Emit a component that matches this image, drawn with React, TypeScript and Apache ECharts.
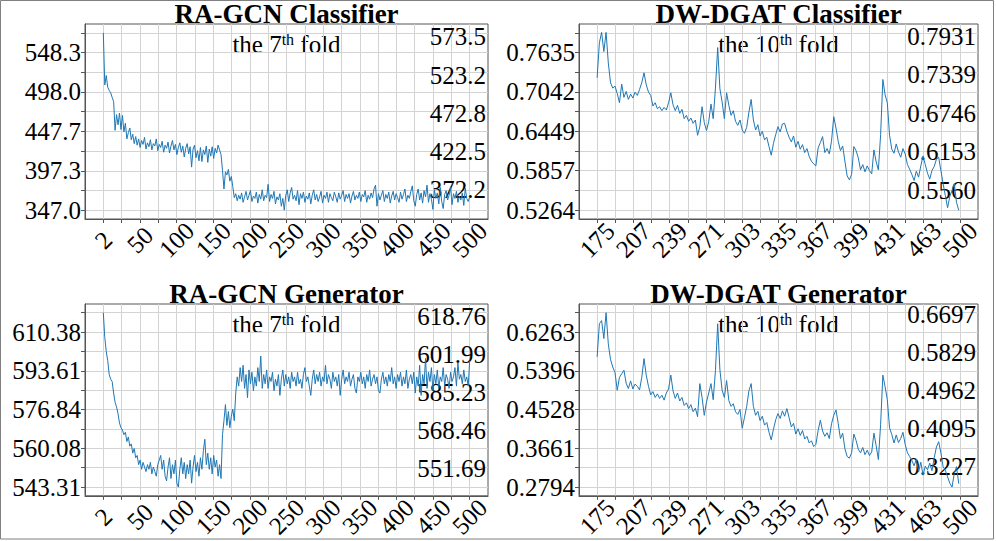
import React, { useEffect, useRef } from 'react';
import * as echarts from 'echarts';

// ---------------- data ----------------
// RA-GCN, epochs 2,4,...,500 (7th fold)
const raEpochStart = 2;
const raEpochStep = 2;
const raClsLoss = [
  573.5, 507, 519, 504, 500, 497, 491, 486, 449, 469,
  456, 471, 450, 468, 447, 458, 438, 446, 452, 437,
  444, 432, 441, 430, 438, 427, 436, 431, 440, 425,
  433, 428, 437, 424, 432, 429, 438, 423, 431, 427,
  435, 421, 430, 426, 434, 420, 429, 436, 424, 431,
  418, 427, 433, 421, 429, 415, 426, 432, 419, 428,
  402, 425, 430, 414, 423, 410, 427, 409, 424, 418,
  429, 408, 425, 416, 428, 413, 426, 420, 430, 424,
  418, 398, 374, 396, 392, 399, 384, 390, 377, 363,
  368, 359, 366, 361, 369, 357, 364, 371, 360, 366,
  372, 358, 365, 362, 370, 356, 367, 361, 373, 359,
  366, 363, 380, 358, 367, 362, 371, 355, 364, 360,
  368, 352, 362, 347, 366, 373, 358, 369, 376, 361,
  366, 359, 372, 354, 368, 362, 370, 357, 365, 361,
  369, 355, 366, 373, 360, 367, 358, 364, 371, 356,
  366, 362, 370, 357, 368, 363, 359, 370, 364, 357,
  369, 361, 366, 372, 358, 367, 362, 368, 356, 365,
  371, 360, 366, 362, 370, 358, 367, 364, 372, 357,
  366, 361, 369, 363, 374, 379, 352, 368, 360, 366,
  372, 358, 367, 362, 370, 356, 365, 371, 360, 368,
  363, 357, 370, 361, 367, 374, 358, 366, 362, 371,
  378, 359, 352, 367, 374, 360, 369, 356, 372, 364,
  379, 357, 368, 361, 348, 373, 362, 369, 355, 376,
  358, 349, 367, 372, 360, 366, 377, 354, 368, 362,
  371, 357, 365, 360, 369, 353, 375, 362, 358, 364,
];
const raGenLoss = [
  618.76, 608, 602, 598, 592, 590, 589, 584, 580, 578,
  575, 571, 569, 568, 566, 567, 563, 565, 561, 562,
  558, 560, 556, 557, 553, 555, 551, 554, 552, 550,
  553, 551, 554, 549, 552, 550, 548, 553, 555, 557,
  551, 555, 548, 546, 552, 556, 547, 553, 549, 555,
  545, 543.31, 551, 556, 549, 554, 547, 553, 549, 555,
  545, 552, 557, 550, 554, 548, 556, 551, 559, 564,
  553, 558, 551, 556, 549, 557, 552, 555, 548, 553,
  547, 566, 572, 579, 570, 576, 569, 574, 577, 572,
  584, 591, 587, 595, 589, 596, 586, 592, 582, 594,
  588, 593, 585, 591, 587, 595, 589, 600, 586, 592,
  588, 594, 586, 591, 589, 593, 585, 590, 587, 592,
  583, 590, 594, 587, 592, 588, 591, 586, 593, 589,
  591, 587, 593, 588, 590, 586, 592, 595, 589, 591,
  587, 583, 590, 594, 588, 592, 589, 593, 587, 591,
  589, 596, 588, 592, 590, 586, 593, 589, 591, 587,
  592, 583, 590, 594, 588, 591, 589, 593, 587, 590,
  592, 586, 584, 591, 589, 593, 588, 591, 586, 592,
  589, 594, 587, 590, 592, 588, 591, 585, 584, 590,
  593, 588, 591, 587, 592, 589, 595, 588, 591, 586,
  592, 589, 593, 587, 591, 588, 594, 586, 590, 592,
  588, 593, 584, 591, 587, 596, 583, 592, 588, 599,
  586, 593, 589, 595, 585, 592, 588, 594, 586, 591,
  589, 595, 587, 592, 590, 586, 593, 589, 591, 595,
  587, 597, 590, 592, 588, 594, 589, 591, 587, 598,
];

// DW-DGAT, epochs 175,177,...,499 (10th fold)
const dwEpochStart = 175;
const dwEpochStep = 2;
const dwClsLoss = [
  0.7255, 0.778, 0.7939, 0.765, 0.7939, 0.748, 0.718, 0.71, 0.713, 0.702,
  0.688, 0.716, 0.696, 0.705, 0.693, 0.701, 0.695, 0.704, 0.699, 0.708,
  0.718, 0.733, 0.715, 0.704, 0.699, 0.683, 0.688, 0.679, 0.682, 0.676,
  0.681, 0.677, 0.688, 0.703, 0.685, 0.676, 0.684, 0.672, 0.678, 0.664,
  0.669, 0.66, 0.665, 0.657, 0.662, 0.639, 0.652, 0.682, 0.658, 0.646,
  0.66, 0.686, 0.664, 0.71, 0.771, 0.709, 0.689, 0.664, 0.703, 0.684,
  0.669, 0.676, 0.66, 0.654, 0.662, 0.647, 0.642, 0.651, 0.674, 0.693,
  0.662, 0.647, 0.655, 0.638, 0.645, 0.632, 0.636, 0.622, 0.609, 0.627,
  0.64, 0.652, 0.644, 0.656, 0.657, 0.645, 0.636, 0.629, 0.638, 0.621,
  0.63, 0.618, 0.625, 0.613, 0.619, 0.607, 0.6, 0.596, 0.593, 0.62,
  0.628, 0.637, 0.613, 0.619, 0.611, 0.63, 0.667, 0.65, 0.63, 0.616,
  0.623, 0.6, 0.578, 0.572, 0.58, 0.622, 0.616, 0.605, 0.587, 0.595,
  0.584, 0.593, 0.586, 0.581, 0.617, 0.599, 0.587, 0.64, 0.723, 0.7,
  0.688, 0.639, 0.618, 0.612, 0.626, 0.614, 0.606, 0.619, 0.611, 0.595,
  0.588, 0.58, 0.571, 0.585, 0.576, 0.593, 0.608, 0.595, 0.582, 0.573,
  0.586, 0.592, 0.603, 0.606, 0.586, 0.566, 0.548, 0.53, 0.547, 0.556,
  0.566, 0.538, 0.5264,
];
const dwGenLoss = [
  0.571, 0.645, 0.652, 0.612, 0.6697, 0.6, 0.565, 0.548, 0.536, 0.496,
  0.525, 0.533, 0.541, 0.512, 0.5, 0.517, 0.499, 0.51, 0.505, 0.497,
  0.525, 0.567, 0.53, 0.505, 0.486, 0.493, 0.48, 0.488, 0.478, 0.485,
  0.474, 0.49, 0.499, 0.53, 0.495, 0.478, 0.49, 0.472, 0.48, 0.462,
  0.468, 0.455, 0.464, 0.448, 0.456, 0.437, 0.511, 0.48, 0.44, 0.47,
  0.49, 0.511, 0.475, 0.54, 0.645, 0.542, 0.496, 0.48, 0.518, 0.473,
  0.46, 0.466, 0.448, 0.442, 0.453, 0.411, 0.435, 0.46, 0.495, 0.511,
  0.46, 0.44, 0.449, 0.428, 0.438, 0.418, 0.424, 0.402, 0.385, 0.409,
  0.43, 0.444, 0.433, 0.45, 0.438, 0.455, 0.435, 0.414, 0.422, 0.398,
  0.41, 0.395, 0.406, 0.387, 0.393, 0.378, 0.383, 0.37, 0.375, 0.406,
  0.429, 0.405, 0.393, 0.401, 0.388, 0.421, 0.44, 0.452, 0.422, 0.388,
  0.4, 0.365, 0.348, 0.344, 0.356, 0.398, 0.384, 0.364, 0.356, 0.368,
  0.352, 0.362, 0.35, 0.358, 0.4, 0.372, 0.341, 0.42, 0.53, 0.504,
  0.475, 0.412, 0.397, 0.378, 0.396, 0.379, 0.388, 0.402, 0.375, 0.356,
  0.348, 0.339, 0.327, 0.342, 0.313, 0.335, 0.306, 0.326, 0.318, 0.333,
  0.316, 0.345, 0.369, 0.381, 0.356, 0.325, 0.317, 0.302, 0.288, 0.2794,
  0.31, 0.325, 0.287,
];

// tick labels
const raXLabels = ['2', '50', '100', '150', '200', '250', '300', '350', '400', '450', '500'];
const dwXLabels = ['175', '207', '239', '271', '303', '335', '367', '399', '431', '463', '500'];
const raClsYTicks = ['347.0', '372.2', '397.3', '422.5', '447.7', '472.8', '498.0', '523.2', '548.3', '573.5'];
const raGenYTicks = ['543.31', '551.69', '560.08', '568.46', '576.84', '585.23', '593.61', '601.99', '610.38', '618.76'];
const dwClsYTicks = ['0.5264', '0.5560', '0.5857', '0.6153', '0.6449', '0.6746', '0.7042', '0.7339', '0.7635', '0.7931'];
const dwGenYTicks = ['0.2794', '0.3227', '0.3661', '0.4095', '0.4528', '0.4962', '0.5396', '0.5829', '0.6263', '0.6697'];

const titles = ['RA-GCN Classifier', 'DW-DGAT Classifier', 'RA-GCN Generator', 'DW-DGAT Generator'];
const foldNumbers = ['7', '10', '7', '10'];

// ---------------- helpers ----------------
const FONT = 'Liberation Serif';
const FRAME = '#555555';
const GRIDC = '#d3d3d3';
const LINE = '#1f77b4';

function linspace(a: number, b: number, n: number) {
  const out: number[] = [];
  for (let i = 0; i < n; i++) out.push(a + ((b - a) * i) / (n - 1));
  return out;
}

function toPairs(values: number[], start: number, step: number) {
  return values.map((v, i) => [start + i * step, v]);
}

function nearestLabel(v: number, vals: number[], labels: string[]) {
  let best = 0;
  for (let i = 1; i < vals.length; i++) {
    if (Math.abs(vals[i] - v) < Math.abs(vals[best] - v)) best = i;
  }
  return labels[best];
}

type Panel = {
  grid: { left: number; top: number; width: number; height: number };
  xFirst: number;
  xLast: number;
  xLabels: string[];
  yTicks: string[];
  rightRange: [number, number];
  data: number[][];
};

const panels: Panel[] = [
  {
    grid: { left: 85, top: 24, width: 403, height: 195 },
    xFirst: 2, xLast: 500, xLabels: raXLabels, yTicks: raClsYTicks,
    rightRange: [334.1, 590.2],
    data: toPairs(raClsLoss, raEpochStart, raEpochStep),
  },
  {
    grid: { left: 579, top: 24, width: 399, height: 195 },
    xFirst: 175, xLast: 500, xLabels: dwXLabels, yTicks: dwClsYTicks,
    rightRange: [0.5112, 0.8127],
    data: toPairs(dwClsLoss, dwEpochStart, dwEpochStep),
  },
  {
    grid: { left: 85, top: 304, width: 403, height: 195 },
    xFirst: 2, xLast: 500, xLabels: raXLabels, yTicks: raGenYTicks,
    rightRange: [539.4, 624.3],
    data: toPairs(raGenLoss, raEpochStart, raEpochStep),
  },
  {
    grid: { left: 579, top: 304, width: 399, height: 195 },
    xFirst: 175, xLast: 500, xLabels: dwXLabels, yTicks: dwGenYTicks,
    rightRange: [0.2567, 0.6945],
    data: toPairs(dwGenLoss, dwEpochStart, dwEpochStep),
  },
];

function buildOption() {
  const grids: any[] = [];
  const xAxes: any[] = [];
  const yAxes: any[] = [];
  const series: any[] = [];
  const graphics: any[] = [];

  panels.forEach((p, i) => {
    grids.push({
      ...p.grid,
      show: true,
      borderColor: FRAME,
      borderWidth: 1,
      backgroundColor: 'transparent',
      containLabel: false,
    });

    const xTickVals = linspace(p.xFirst, p.xLast, 21);
    const xLabelVals = xTickVals.filter((_, k) => k % 2 === 0);
    const xPad = (p.xLast - p.xFirst) * 0.05;
    xAxes.push({
      gridIndex: i,
      type: 'value',
      min: p.xFirst - xPad,
      max: p.xLast + xPad,
      axisLine: { show: true, onZero: false, lineStyle: { color: FRAME, width: 1 } },
      axisTick: { show: true, length: 4, lineStyle: { color: FRAME, width: 1 }, customValues: xTickVals },
      splitLine: { show: true, lineStyle: { color: GRIDC, width: 1 } },
      axisLabel: {
        customValues: xLabelVals,
        formatter: (v: number) => nearestLabel(v, xLabelVals, p.xLabels),
        rotate: 45,
        align: 'center',
        verticalAlign: 'middle',
        margin: 21,
        color: '#000',
        fontFamily: FONT,
        fontSize: 25,
      },
    });

    const yVals = p.yTicks.map((s) => parseFloat(s));
    const y0 = yVals[0];
    const y1 = yVals[yVals.length - 1];
    const yPad = (y1 - y0) * 0.05;
    const leftVals = yVals.filter((_, k) => k % 2 === 0);
    const leftLabels = p.yTicks.filter((_, k) => k % 2 === 0);
    const rightVals = yVals.filter((_, k) => k % 2 === 1);
    const rightLabels = p.yTicks.filter((_, k) => k % 2 === 1);

    yAxes.push({
      gridIndex: i,
      type: 'value',
      position: 'left',
      min: y0 - yPad,
      max: y1 + yPad,
      axisLine: { show: true, onZero: false, lineStyle: { color: FRAME, width: 1 } },
      axisTick: { show: true, length: 4, lineStyle: { color: FRAME, width: 1 }, customValues: yVals },
      splitLine: { show: true, lineStyle: { color: GRIDC, width: 1 } },
      axisLabel: {
        customValues: leftVals,
        formatter: (v: number) => nearestLabel(v, leftVals, leftLabels),
        margin: 4,
        color: '#000',
        fontFamily: FONT,
        fontSize: 25,
      },
    });
    yAxes.push({
      gridIndex: i,
      type: 'value',
      position: 'right',
      min: p.rightRange[0],
      max: p.rightRange[1],
      axisLine: { show: false },
      axisTick: { show: false },
      splitLine: { show: false },
      axisLabel: {
        inside: true,
        customValues: rightVals,
        formatter: (v: number) => nearestLabel(v, rightVals, rightLabels),
        margin: 2,
        color: '#000',
        fontFamily: FONT,
        fontSize: 25,
      },
    });

    series.push({
      type: 'line',
      xAxisIndex: i,
      yAxisIndex: i * 2,
      data: p.data,
      showSymbol: false,
      symbol: 'none',
      clip: true,
      lineStyle: { color: LINE, width: 1 },
      itemStyle: { color: LINE },
      z: 3,
    });

    const cx = p.grid.left + p.grid.width / 2;
    graphics.push({
      type: 'text',
      x: cx,
      y: p.grid.top - 10,
      style: {
        text: titles[i],
        fontFamily: FONT,
        fontSize: 27,
        fontWeight: 'bold',
        fill: '#000',
        textAlign: 'center',
        textVerticalAlign: 'middle',
      },
    });
    graphics.push({
      type: 'text',
      x: cx,
      y: p.grid.top + 20,
      style: {
        text: `{a|the ${foldNumbers[i]}}{s|th}{a| fold}`,
        rich: {
          a: { fontFamily: FONT, fontSize: 25, lineHeight: 26, fill: '#000', color: '#000' },
          s: {
            fontFamily: FONT, fontSize: 16, lineHeight: 16, fill: '#000', color: '#000',
            verticalAlign: 'top',
          },
        },
        textAlign: 'center',
        textVerticalAlign: 'middle',
      },
    });
  });

  graphics.push({
    type: 'rect',
    shape: { x: 0.5, y: 0.5, width: 993, height: 538.5 },
    style: { fill: 'none', stroke: '#808080', lineWidth: 1 },
    silent: true,
  });

  return {
    animation: false,
    backgroundColor: '#ffffff',
    grid: grids,
    xAxis: xAxes,
    yAxis: yAxes,
    series,
    graphic: graphics,
  };
}

export default function App() {
  const ref = useRef<HTMLDivElement>(null);
  useEffect(() => {
    document.body.style.margin = '0';
    if (!ref.current) return;
    const chart = echarts.init(ref.current, undefined, { renderer: 'svg' });
    chart.setOption(buildOption() as any);
    return () => chart.dispose();
  }, []);
  return (
    <div
      ref={ref}
      style={{ position: 'absolute', left: 0, top: 0, width: 996, height: 541, background: '#fff' }}
    />
  );
}
